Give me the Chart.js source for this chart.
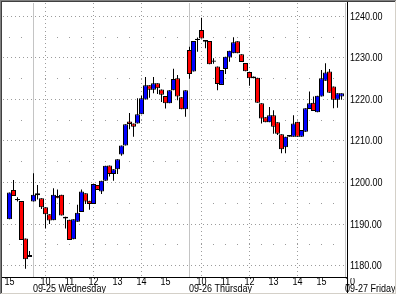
<!DOCTYPE html>
<html lang="en">
<head>
    <meta charset="UTF-8">
    <title>Candles</title>
    <script src="https://cdn.jsdelivr.net/npm/chart.js"></script>
    <style>
        body { margin: 0; background: #fff; overflow: hidden; }
        canvas { display: block; }
    </style>
</head>
<body>
    <canvas id="chart" width="397" height="295"></canvas>

    <script>
        // 10-minute bars, Tue 15:00 .. Thu 15:50 (index 0..83)
        const openP = [1191.0, 1198.1, 1195.9, 1195.4, 1186.4, 1181.9, 1195.3, 1197.3, 1196.1, 1193.9,
            1192.2, 1190.8, 1196.6, 1196.9, 1191.6, 1190.9, 1186.2, 1190.4, 1192.8, 1197.3,
            1195.5, 1194.7, 1199.3, 1197.7, 1200.3, 1204.0, 1201.9, 1203.1, 1206.6, 1208.8,
            1214.6, 1214.1, 1214.1, 1216.3, 1219.9, 1223.3, 1222.2, 1223.8, 1222.3, 1220.7,
            1219.0, 1222.1, 1225.0, 1220.4, 1217.5, 1231.8, 1226.6, 1234.5, 1236.6, 1233.8,
            1234.0, 1229.3, 1227.8, 1223.4, 1227.2, 1230.0, 1231.0, 1233.9, 1230.8, 1228.7,
            1226.5, 1225.0, 1225.1, 1219.0, 1215.6, 1214.4, 1216.1, 1214.4, 1211.5, 1208.4,
            1210.9, 1210.9, 1214.5, 1210.9, 1212.1, 1217.6, 1219.1, 1216.8, 1220.6, 1224.4,
            1226.6, 1223.0, 1219.8, 1220.6];
        const highP = [1197.5, 1200.5, 1196.3, 1195.4, 1186.4, 1183.4, 1202.1, 1199.3, 1196.1, 1193.9,
            1192.2, 1198.5, 1198.2, 1196.9, 1191.6, 1190.9, 1191.0, 1194.5, 1198.2, 1197.3,
            1195.5, 1199.5, 1199.3, 1200.3, 1203.9, 1204.0, 1203.1, 1205.5, 1208.8, 1213.9,
            1216.6, 1214.1, 1220.2, 1220.8, 1225.3, 1223.3, 1225.3, 1223.8, 1222.3, 1220.7,
            1222.1, 1227.3, 1225.8, 1220.4, 1222.1, 1232.6, 1234.0, 1234.8, 1239.6, 1234.2,
            1234.0, 1229.8, 1227.8, 1227.0, 1230.2, 1231.6, 1234.9, 1233.9, 1230.8, 1228.7,
            1226.5, 1225.4, 1225.1, 1219.0, 1215.6, 1218.1, 1217.3, 1214.4, 1211.5, 1210.9,
            1211.3, 1216.1, 1214.5, 1212.5, 1217.8, 1221.8, 1220.6, 1220.8, 1227.0, 1228.6,
            1227.2, 1223.0, 1221.4, 1221.4];
        const lowP = [1191.0, 1196.6, 1195.3, 1186.0, 1179.1, 1181.9, 1195.3, 1195.8, 1193.5, 1188.8,
            1189.9, 1190.8, 1196.1, 1191.9, 1188.8, 1186.0, 1186.2, 1190.4, 1192.8, 1194.7,
            1193.3, 1194.7, 1198.1, 1197.1, 1200.3, 1201.3, 1200.3, 1201.9, 1206.3, 1208.8,
            1212.7, 1210.9, 1214.1, 1216.3, 1219.9, 1220.3, 1221.4, 1221.2, 1219.3, 1217.7,
            1219.0, 1222.1, 1219.7, 1217.5, 1215.7, 1224.9, 1226.6, 1231.4, 1234.6, 1232.2,
            1228.4, 1228.5, 1222.1, 1223.4, 1226.0, 1229.0, 1231.0, 1231.0, 1228.9, 1226.7,
            1223.2, 1225.0, 1219.1, 1214.1, 1214.4, 1214.4, 1211.6, 1211.3, 1206.9, 1206.9,
            1210.9, 1210.9, 1210.9, 1210.9, 1212.1, 1217.6, 1217.1, 1216.8, 1220.6, 1224.4,
            1221.5, 1217.8, 1217.9, 1219.8];
        const closeP = [1197.5, 1196.6, 1195.6, 1186.0, 1181.4, 1182.4, 1196.9, 1196.8, 1193.9, 1192.2,
            1190.7, 1196.9, 1196.1, 1191.9, 1191.2, 1186.0, 1191.0, 1192.6, 1197.7, 1195.3,
            1194.7, 1199.5, 1198.1, 1200.3, 1203.9, 1201.9, 1203.1, 1205.5, 1208.8, 1213.9,
            1214.0, 1213.3, 1216.3, 1220.2, 1223.3, 1222.2, 1223.8, 1222.6, 1221.0, 1219.0,
            1222.1, 1224.8, 1220.6, 1217.5, 1222.1, 1226.0, 1234.0, 1234.2, 1234.6, 1234.2,
            1228.4, 1229.0, 1223.6, 1227.0, 1230.2, 1231.6, 1233.7, 1231.0, 1228.9, 1226.7,
            1225.0, 1225.4, 1219.1, 1215.3, 1214.4, 1216.1, 1213.3, 1211.6, 1207.9, 1210.9,
            1211.3, 1214.1, 1210.9, 1212.5, 1217.8, 1219.0, 1217.1, 1220.8, 1225.0, 1226.4,
            1221.5, 1219.8, 1221.4, 1221.4];

        // axis labels
        const hourTickIdx = [0, 9, 15, 21, 27, 33, 39, 48, 54, 60, 66, 72, 78, 87];
        const hourTickText = ['15', '10', '11', '12', '13', '14', '15', '10', '11', '12', '13', '14', '15', '10'];
        const gridHourIdx = [9, 21, 33, 48, 60, 72];       // dotted verticals every 2 hours
        const dayStartIdx = [6, 45, 84];
        const dayText = ['09-25 Wednesday', '09-26 Thursday', '09-27 Friday'];
        const priceTicks = [1180, 1190, 1200, 1210, 1220, 1230, 1240];
        const halfTicks = [1185, 1195, 1205, 1215, 1225, 1235];

        const FONT = '10px "Liberation Sans", Arial, sans-serif';

        function drawText(ctx, s, x, y, align) {
            ctx.save();
            ctx.translate(x, y);
            ctx.scale(0.9, 1);
            ctx.textAlign = align;
            ctx.fillText(s, 0, 0);
            ctx.restore();
        }

        const decor = {
            id: 'decor',
            beforeDatasetsDraw(chart) {
                const { ctx, chartArea: a, scales: { x, y } } = chart;
                ctx.save();
                ctx.beginPath();
                ctx.rect(a.left, a.top, a.right - a.left, a.bottom - a.top);
                ctx.clip();
                ctx.lineWidth = 1;
                ctx.strokeStyle = '#9c9c9c';

                // sparse rows at the 5s, dots every half hour
                const x0 = Math.floor(x.getPixelForValue(-3));
                ctx.setLineDash([1, 11]);
                halfTicks.forEach(v => {
                    const py = Math.round(y.getPixelForValue(v)) + 0.5;
                    ctx.beginPath();
                    ctx.moveTo(x0, py);
                    ctx.lineTo(a.right, py);
                    ctx.stroke();
                });

                // dense rows at the 10s
                ctx.setLineDash([1, 3]);
                priceTicks.forEach(v => {
                    const py = Math.round(y.getPixelForValue(v)) + 0.5;
                    ctx.beginPath();
                    ctx.moveTo(a.left, py);
                    ctx.lineTo(a.right, py);
                    ctx.stroke();
                });

                gridHourIdx.forEach(i => {
                    const px = Math.floor(x.getPixelForValue(i)) + 0.5;
                    ctx.beginPath();
                    ctx.moveTo(px, a.top);
                    ctx.lineTo(px, a.bottom);
                    ctx.stroke();
                });

                // day separators
                ctx.setLineDash([]);
                ctx.strokeStyle = '#c4c4c4';
                dayStartIdx.forEach(i => {
                    const px = Math.floor(x.getPixelForValue(i)) + 0.5;
                    ctx.beginPath();
                    ctx.moveTo(px, a.top);
                    ctx.lineTo(px, a.bottom);
                    ctx.stroke();
                });
                ctx.restore();
            },
            afterDraw(chart) {
                const { ctx, chartArea: a, scales: { x, y } } = chart;
                const W = chart.width, H = chart.height;
                ctx.save();

                // axis lines
                ctx.strokeStyle = '#000';
                ctx.lineWidth = 1;
                ctx.beginPath();
                ctx.moveTo(a.right + 1.5, 0);
                ctx.lineTo(a.right + 1.5, H - 2);
                ctx.moveTo(2, a.bottom + 0.5);
                ctx.lineTo(a.right + 1.5, a.bottom + 0.5);
                ctx.stroke();

                ctx.font = FONT;
                ctx.fillStyle = '#000';
                ctx.textBaseline = 'alphabetic';

                priceTicks.forEach(v => {
                    const py = Math.round(y.getPixelForValue(v));
                    drawText(ctx, v.toFixed(2), a.right + 4, py + 4, 'left');
                });

                ctx.beginPath();
                ctx.rect(2, a.bottom + 1, W - 4, H - a.bottom - 3);
                ctx.clip();
                hourTickIdx.forEach((i, k) => {
                    const px = Math.min(x.getPixelForValue(i), a.right + 4);
                    drawText(ctx, hourTickText[k], px, a.bottom + 8, 'center');
                });
                dayStartIdx.forEach((i, k) => {
                    const px = Math.floor(x.getPixelForValue(i));
                    drawText(ctx, dayText[k], px, a.bottom + 15, 'left');
                });
                ctx.restore();

                // window frame
                ctx.save();
                ctx.fillStyle = '#808080';
                ctx.fillRect(0, 0, W, 1);
                ctx.fillRect(0, 0, 1, H);
                ctx.fillStyle = '#404040';
                ctx.fillRect(1, 1, W - 2, 1);
                ctx.fillRect(1, 1, 1, H - 2);
                ctx.fillStyle = '#d4d0c8';
                ctx.fillRect(W - 2, 1, 1, H - 2);
                ctx.fillRect(1, H - 2, W - 2, 1);
                ctx.fillStyle = '#ffffff';
                ctx.fillRect(W - 1, 0, 1, H);
                ctx.fillRect(0, H - 1, W, 1);
                ctx.restore();
            }
        };

        const bodies = openP.map((o, i) => ({ x: i, y: [o, closeP[i]] }));
        const wicks = highP.map((h, i) => ({ x: i, y: [lowP[i], h] }));
        const bodyColors = openP.map((o, i) => closeP[i] >= o ? '#0000ff' : '#ff0000');

        const ctx = document.getElementById('chart').getContext('2d');
        const chart = new Chart(ctx, {
            type: 'bar',
            data: {
                datasets: [
                    {
                        label: 'body',
                        data: bodies,
                        backgroundColor: bodyColors,
                        borderColor: '#000',
                        borderWidth: 1,
                        borderSkipped: false,
                        barThickness: 5,
                        grouped: false,
                        inflateAmount: 0,
                    },
                    {
                        label: 'wick',
                        data: wicks,
                        backgroundColor: '#000',
                        borderWidth: 0,
                        barThickness: 1,
                        grouped: false,
                        inflateAmount: 0,
                    },
                ],
            },
            options: {
                responsive: false,
                animation: false,
                devicePixelRatio: 1,
                events: [],
                layout: { padding: { left: 3, top: 3, right: 51, bottom: 18 } },
                plugins: { legend: { display: false }, tooltip: { enabled: false } },
                scales: {
                    x: { type: 'linear', min: -1.625, max: 84.125, offset: false, display: false },
                    y: { min: 1177.11, max: 1243.13, display: false },
                },
            },
            plugins: [decor],
        });
    </script>
</body>
</html>
